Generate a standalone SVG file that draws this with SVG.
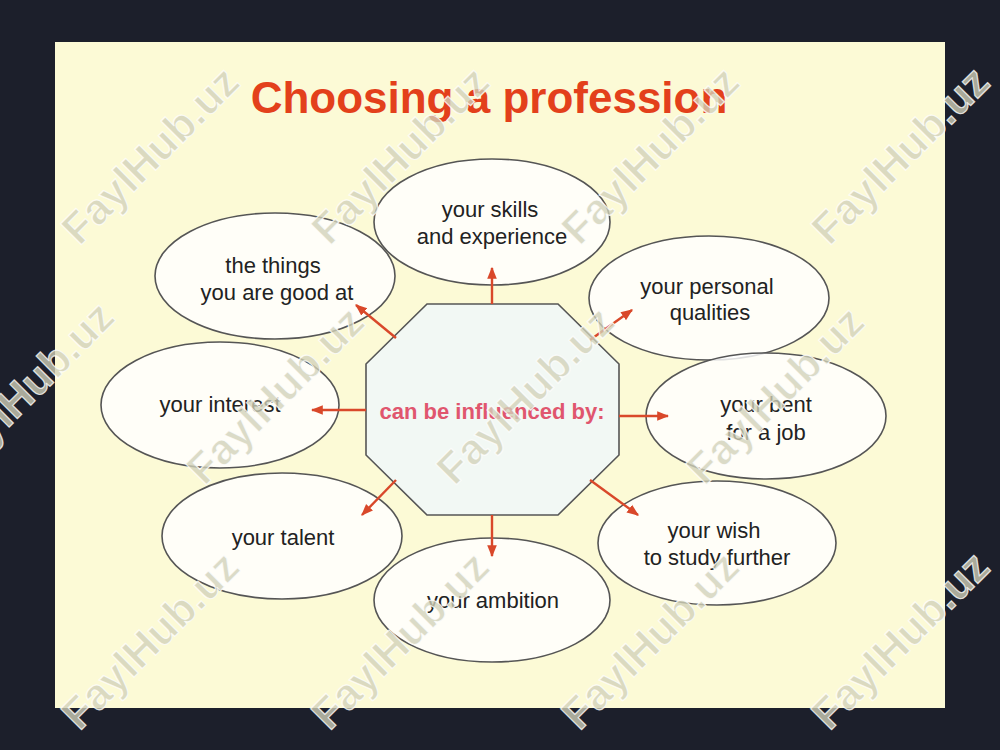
<svg xmlns="http://www.w3.org/2000/svg" width="1000" height="750" viewBox="0 0 1000 750">
<defs>
<marker id="ah" viewBox="0 0 10 10" refX="9" refY="5" markerWidth="5" markerHeight="5" orient="auto" markerUnits="strokeWidth">
<path d="M0,1 L10,5 L0,9 z" fill="#d9482a"/>
</marker>
<style>
.bub{fill:#ffffff;fill-opacity:0.82;stroke:#555;stroke-width:1.6}
.lbl{font-family:"Liberation Sans",Arial,sans-serif;font-size:22px;fill:#222;text-anchor:middle}
.con line{stroke:#d9482a;stroke-width:2.4;marker-end:url(#ah)}
.wm{font-family:"Liberation Sans",Arial,sans-serif;font-weight:bold;font-size:43px;fill:#d2d2ba;fill-opacity:0.8;stroke:#ffffff;stroke-opacity:0.8;stroke-width:1.2;text-anchor:middle}
</style>
</defs>
<rect x="0" y="0" width="1000" height="750" fill="#1c1f2b"/>
<rect x="55" y="42" width="890" height="666" fill="#fcfad6"/>
<text x="489" y="113" font-family="'Liberation Sans',Arial,sans-serif" font-weight="bold" font-size="44" fill="#e3401b" text-anchor="middle">Choosing a profession</text>

<g id="center">
<polygon points="427,304 558,304 619,364 619,455 558,515 427,515 366,455 366,364" fill="#f2f8f4" stroke="#555" stroke-width="1.6"/>
<text x="492" y="419" font-family="'Liberation Sans',Arial,sans-serif" font-weight="bold" font-size="22" fill="#e0566e" text-anchor="middle">can be influenced by:</text>
</g>

<g id="skills"><ellipse class="bub" cx="492" cy="222" rx="118" ry="63"/>
<text class="lbl" x="490" y="217">your skills</text><text class="lbl" x="492" y="244">and experience</text></g>
<g id="things"><ellipse class="bub" cx="275" cy="276" rx="120" ry="63"/>
<text class="lbl" x="273" y="273">the things</text><text class="lbl" x="277" y="300">you are good at</text></g>
<g id="personal"><ellipse class="bub" cx="709" cy="298" rx="120" ry="62"/>
<text class="lbl" x="707" y="294">your personal</text><text class="lbl" x="710" y="320">qualities</text></g>
<g id="interest"><ellipse class="bub" cx="220" cy="405" rx="119" ry="63"/>
<text class="lbl" x="220" y="412">your interest</text></g>
<g id="bent"><ellipse class="bub" cx="766" cy="416" rx="120" ry="63"/>
<text class="lbl" x="766" y="412">your bent</text><text class="lbl" x="766" y="440">for a job</text></g>
<g id="talent"><ellipse class="bub" cx="282" cy="536" rx="120" ry="63"/>
<text class="lbl" x="283" y="545">your talent</text></g>
<g id="wish"><ellipse class="bub" cx="717" cy="543" rx="119" ry="62"/>
<text class="lbl" x="714" y="538">your wish</text><text class="lbl" x="717" y="565">to study further</text></g>
<g id="ambition"><ellipse class="bub" cx="492" cy="600" rx="118" ry="62"/>
<text class="lbl" x="493" y="608">your ambition</text></g>

<g id="connectors" class="con">
<line x1="492" y1="304" x2="492" y2="268"/>
<line x1="396" y1="338" x2="356" y2="305"/>
<line x1="590" y1="340" x2="632" y2="310"/>
<line x1="366" y1="410" x2="312" y2="410"/>
<line x1="619" y1="416" x2="668" y2="416"/>
<line x1="396" y1="480" x2="362" y2="515"/>
<line x1="590" y1="480" x2="638" y2="515"/>
<line x1="492" y1="515" x2="492" y2="556"/>
</g>

<g id="watermarks">
<text class="wm" transform="translate(150,155) rotate(-45)" y="15">FaylHub.uz</text>
<text class="wm" transform="translate(400,155) rotate(-45)" y="15">FaylHub.uz</text>
<text class="wm" transform="translate(650,155) rotate(-45)" y="15">FaylHub.uz</text>
<text class="wm" transform="translate(900,155) rotate(-45)" y="15">FaylHub.uz</text>
<text class="wm" transform="translate(25,390) rotate(-45)" y="15">FaylHub.uz</text>
<text class="wm" transform="translate(275,395) rotate(-45)" y="15">FaylHub.uz</text>
<text class="wm" transform="translate(525,395) rotate(-45)" y="15">FaylHub.uz</text>
<text class="wm" transform="translate(775,395) rotate(-45)" y="15">FaylHub.uz</text>
<text class="wm" transform="translate(150,640) rotate(-45)" y="15">FaylHub.uz</text>
<text class="wm" transform="translate(400,640) rotate(-45)" y="15">FaylHub.uz</text>
<text class="wm" transform="translate(650,640) rotate(-45)" y="15">FaylHub.uz</text>
<text class="wm" transform="translate(900,640) rotate(-45)" y="15">FaylHub.uz</text>
</g>
</svg>
